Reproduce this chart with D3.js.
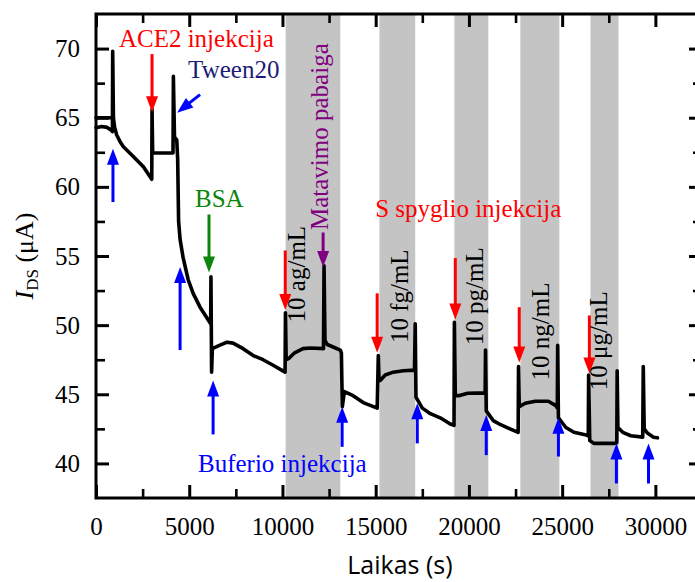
<!DOCTYPE html>
<html>
<head>
<meta charset="utf-8">
<script src="https://cdn.jsdelivr.net/npm/d3@7"></script>
<style>
  body { margin: 0; background: #fff; }
  svg { display: block; }
</style>
</head>
<body>
<svg width="695" height="582"></svg>
<script>

// DATA ––––––––––––––––––––––––––––––––––––––––––––––––––––––––––––––––

// time (s), I_DS (uA)
var current = [
  [0,64.28],[300,64.36],[600,64.3],[820,64.1],[880,64.0],[895,69.8],[935,65.0],[1000,64.3],[1110,63.75],
  [1300,63.25],[1470,62.9],[2000,62.2],[2540,61.45],[2990,60.55],
  [3005,65.6],[3040,62.45],[4130,62.45],[4150,68.0],[4210,63.6],[4330,63.4],[4380,62.0],[4430,57.5],
  [4510,56.2],[4670,54.9],[4940,53.3],[5210,52.3],[5580,51.3],[5960,50.5],[6150,50.1],
  [6165,53.5],[6200,46.6],[6240,48.3],[6650,48.55],[7030,48.77],[7350,48.7],[7890,48.3],[8430,47.8],
  [8960,47.5],[9500,47.1],[10140,46.6],
  [10160,50.9],[10200,47.5],[10350,47.6],[10650,48.0],[11100,48.3],[11500,48.35],[12200,48.3],
  [12230,54.3],[12280,48.9],[12400,48.6],[12750,48.4],[13100,48.2],[13160,48.0],[13210,44.1],
  [13320,45.2],[13790,44.9],[14330,44.4],[15080,44.0],
  [15140,47.8],[15180,46.0],[15240,46.0],[15510,46.4],[15940,46.6],[16480,46.7],[17080,46.75],
  [17120,50.1],[17160,44.8],[17500,44.0],[17930,43.6],[18460,43.3],[19000,42.85],[19200,42.75],
  [19220,50.2],[19270,44.9],[19460,44.9],[19930,45.07],[20870,45.1],[20890,48.2],[20930,43.8],
  [21300,43.1],[21700,42.8],[22200,42.5],[22640,42.25],
  [22660,47.0],[22700,44.1],[23020,44.35],[23560,44.5],[24260,44.5],[24640,44.2],[24740,44.0],
  [24760,48.55],[24800,43.3],[25200,42.6],[25630,42.25],[26170,42.1],[26400,42.0],
  [26420,46.4],[26480,41.65],[26700,41.45],[27800,41.45],[27930,41.5],[27950,46.7],[27990,42.6],
  [28250,42.25],[28680,42.0],[29320,41.9],[29350,47.0],[29400,42.5],[29570,42.2],[29900,41.9],[30110,41.85]
];
var startTrace = [[0,65.0],[890,65.0]];

// shaded measurement windows (s)
var bands = [[10170,13100],[15200,17120],[19220,21040],[22760,24850],[26520,28020]];

var xTicks = [0,5000,10000,15000,20000,25000,30000];
var xMinor = [2500,7500,12500,17500,22500,27500];
var yTicks = [40,45,50,55,60,65,70];
var yMinor = [42.5,47.5,52.5,57.5,62.5,67.5];

// arrows: [time, from value, to value]
var bufferArrows = [[910,58.9,62.75],[4510,48.2,54.2],[6280,42.1,46.0],[13200,41.2,44.1],[17230,41.45,44.35],
                    [20930,40.6,43.5],[24800,40.5,43.3],[27910,38.55,41.45],[29630,38.55,41.45]];
var spikeArrows = [[3005,69.6,65.4],[10150,55.4,51.1],[15080,52.3,48.0],[19270,54.85,50.4],
                   [22700,51.3,47.3],[26460,50.7,46.5]];
var bsaArrow = [[6060,58.0,53.8]];
var endArrow = [[12180,56.7,54.2]];
var tweenArrow = [5580,66.67,4350,65.36];

var notes = [
  ["ACE2 injekcija", 1230, 70.14, "#ff0000"],
  ["Tween20", 4940, 67.9, "#1c1c78"],
  ["BSA", 5310, 58.55, "#0a860a"],
  ["S spyglio injekcija", 14970, 57.8, "#ff0000"],
  ["Buferio injekcija", 5470, 39.35, "#0000ff"]
];
var rotNotes = [
  ["Matavimo pabaiga", 12450, 56.88, "#800080"],
  ["10 ag/mL", 11220, 50.2, "#000"],
  ["10 fg/mL", 16745, 48.7, "#000"],
  ["10 pg/mL", 20770, 48.55, "#000"],
  ["10 ng/mL", 24310, 46.0, "#000"],
  ["10 μg/mL", 27425, 45.3, "#000"]
];

// D3 ––––––––––––––––––––––––––––––––––––––––––––––––––––––––––––––––––

var svg = d3.select("svg"),
    margin = {top: 14, left: 96},
    width = 606,
    height = 484;

var serif = "'Liberation Serif', 'Times New Roman', serif";

var x = d3.scaleLinear().domain([0, 32500]).range([margin.left, margin.left + width]);
var y = d3.scaleLinear().domain([37.5, 72.5]).range([margin.top + height, margin.top]);

// shaded bands
svg.append("g").selectAll("rect")
  .data(bands)
  .enter().append("rect")
    .attr("x", function(d) { return x(d[0]); })
    .attr("width", function(d) { return x(d[1]) - x(d[0]); })
    .attr("y", y(72.5))
    .attr("height", y(37.5) - y(72.5))
    .attr("fill", "#c4c4c4");

// axes, ticks pointing inward
function styleAxis(g, sw) {
  g.select(".domain").remove();
  g.selectAll(".tick line").attr("stroke", "#000").attr("stroke-width", sw);
  g.selectAll(".tick text").attr("fill", "#000").style("font-family", serif).style("font-size", "25px");
}

var bottomY = y(37.5), topY = y(72.5), leftX = x(0), rightX = x(32500);

svg.append("g").attr("transform", "translate(0," + bottomY + ")")
  .call(d3.axisBottom(x).tickValues(xTicks).tickSize(-13).tickPadding(19).tickFormat(d3.format("d")))
  .call(styleAxis, 3);
svg.append("g").attr("transform", "translate(0," + bottomY + ")")
  .call(d3.axisBottom(x).tickValues(xMinor).tickSize(-9).tickFormat(""))
  .call(styleAxis, 2.6);
svg.append("g").attr("transform", "translate(0," + topY + ")")
  .call(d3.axisTop(x).tickValues(xTicks).tickSize(-13).tickFormat(""))
  .call(styleAxis, 3);
svg.append("g").attr("transform", "translate(0," + topY + ")")
  .call(d3.axisTop(x).tickValues(xMinor).tickSize(-9).tickFormat(""))
  .call(styleAxis, 2.6);

svg.append("g").attr("transform", "translate(" + leftX + ",0)")
  .call(d3.axisLeft(y).tickValues(yTicks).tickSize(-13).tickPadding(16))
  .call(styleAxis, 3);
svg.append("g").attr("transform", "translate(" + leftX + ",0)")
  .call(d3.axisLeft(y).tickValues(yMinor).tickSize(-9).tickFormat(""))
  .call(styleAxis, 2.6);
svg.append("g").attr("transform", "translate(" + rightX + ",0)")
  .call(d3.axisRight(y).tickValues(yTicks).tickSize(-13).tickFormat(""))
  .call(styleAxis, 3);
svg.append("g").attr("transform", "translate(" + rightX + ",0)")
  .call(d3.axisRight(y).tickValues(yMinor).tickSize(-9).tickFormat(""))
  .call(styleAxis, 2.6);

svg.append("rect")
  .attr("x", leftX).attr("y", topY)
  .attr("width", rightX - leftX).attr("height", bottomY - topY)
  .attr("fill", "none").attr("stroke", "#000").attr("stroke-width", 3);

// data line
var line = d3.line()
  .x(function(d) { return x(d[0]); })
  .y(function(d) { return y(d[1]); });

[startTrace, current].forEach(function(data) {
  svg.append("path")
    .datum(data)
    .attr("fill", "none")
    .attr("stroke", "#000")
    .attr("stroke-width", 3.6)
    .attr("stroke-linejoin", "round")
    .attr("stroke-linecap", "round")
    .attr("d", line);
});

// arrows
function arrow(x1, y1, x2, y2, color) {
  var dx = x2 - x1, dy = y2 - y1, len = Math.sqrt(dx*dx + dy*dy),
      ux = dx / len, uy = dy / len, hl = 16, hw = 6,
      bx = x2 - ux*hl, by = y2 - uy*hl;
  svg.append("line")
    .attr("x1", x1).attr("y1", y1).attr("x2", bx + ux).attr("y2", by + uy)
    .attr("stroke", color).attr("stroke-width", 3);
  svg.append("path")
    .attr("d", "M" + x2 + "," + y2 + "L" + (bx - uy*hw) + "," + (by + ux*hw) +
               "L" + (bx + uy*hw) + "," + (by - ux*hw) + "Z")
    .attr("fill", color);
}

bufferArrows.forEach(function(d) { arrow(x(d[0]), y(d[1]), x(d[0]), y(d[2]), "#0000ff"); });
spikeArrows.forEach(function(d) { arrow(x(d[0]), y(d[1]), x(d[0]), y(d[2]), "#ff0000"); });
bsaArrow.forEach(function(d) { arrow(x(d[0]), y(d[1]), x(d[0]), y(d[2]), "#0a860a"); });
endArrow.forEach(function(d) { arrow(x(d[0]), y(d[1]), x(d[0]), y(d[2]), "#800080"); });
arrow(x(tweenArrow[0]), y(tweenArrow[1]), x(tweenArrow[2]), y(tweenArrow[3]), "#0000ff");

// annotations
svg.append("g").selectAll("text")
  .data(notes)
  .enter().append("text")
    .attr("x", function(d) { return x(d[1]); })
    .attr("y", function(d) { return y(d[2]); })
    .attr("fill", function(d) { return d[3]; })
    .style("font-family", serif)
    .style("font-size", "25px")
    .text(function(d) { return d[0]; });

svg.append("g").selectAll("text")
  .data(rotNotes)
  .enter().append("text")
    .attr("transform", function(d) { return "translate(" + x(d[1]) + "," + y(d[2]) + ") rotate(-90)"; })
    .attr("fill", function(d) { return d[3]; })
    .style("font-family", serif)
    .style("font-size", "25px")
    .text(function(d) { return d[0]; });

// axis titles
svg.append("text")
  .attr("x", 400).attr("y", 574)
  .attr("text-anchor", "middle")
  .attr("fill", "#000")
  .style("font-family", "'Open Sans', 'Noto Sans', sans-serif")
  .style("font-size", "25px")
  .text("Laikas (s)");

var yt = svg.append("text")
  .attr("transform", "translate(33," + (margin.top + height / 2) + ") rotate(-90)")
  .attr("text-anchor", "middle")
  .attr("fill", "#000")
  .style("font-family", serif)
  .style("font-size", "26px");
yt.append("tspan").style("font-style", "italic").text("I");
yt.append("tspan").attr("dy", 5).style("font-size", "17px").text("DS");
yt.append("tspan").attr("dy", -5).text(" (μA)");

</script>
</body>
</html>
